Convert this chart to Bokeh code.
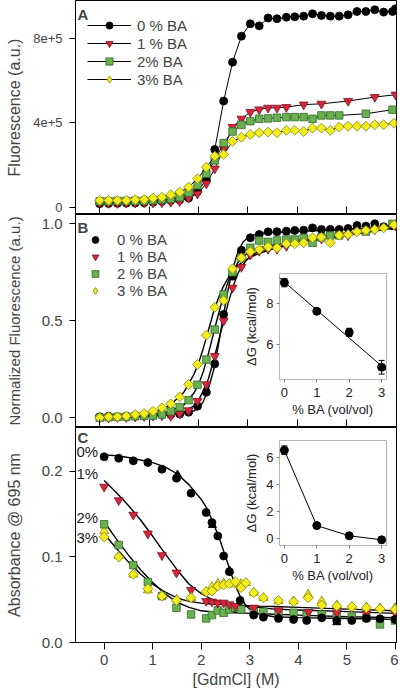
from bokeh.plotting import figure
from bokeh.models import (Range1d, FixedTicker, Legend, LegendItem, Label, ColumnDataSource,
                          Whisker, TeeHead, PrintfTickFormatter)
from bokeh.layouts import column
from bokeh.embed import file_html
from bokeh.resources import INLINE
from bokeh.core.properties import value

FONT = "Liberation Sans"

# ---------------- Panel A : raw fluorescence ----------------
A_x0 = [0.00, 0.18, 0.36, 0.54, 0.72, 0.90, 1.08, 1.26, 1.44, 1.62, 1.80, 1.98, 2.16, 2.33, 2.51, 2.69, 2.87,
        3.05, 3.23, 3.41, 3.59, 3.78, 3.95, 4.13, 4.31, 4.49, 4.67, 4.85, 5.03, 5.21, 5.39, 5.57, 5.75, 5.93, 5.99]
A_y0 = [16000, 17000, 18000, 19000, 20000, 21000, 23000, 28000, 31000, 34000, 43000, 74000, 131000, 273000,
        502000, 686000, 809000, 868000, 858000, 895000, 892000, 899000, 901000, 904000, 915000, 907000, 904000,
        904000, 910000, 926000, 926000, 934000, 923000, 926000, 939000]
A_x1 = [0.00, 0.18, 0.36, 0.54, 0.72, 0.90, 1.08, 1.26, 1.44, 1.62, 1.80, 1.98, 2.16, 2.33, 2.51, 2.69, 2.87,
        3.05, 3.23, 3.41, 3.59, 3.78, 4.13, 4.49, 5.03, 5.57, 5.99]
A_y1 = [18000, 19000, 19000, 20000, 20000, 21000, 21000, 22000, 24000, 27000, 43000, 63000, 111000, 182000,
        276000, 379000, 418000, 450000, 462000, 470000, 470000, 473000, 485000, 489000, 502000, 521000, 532000]
A_x2 = [0.00, 0.18, 0.36, 0.54, 0.72, 0.90, 1.08, 1.26, 1.44, 1.62, 1.80, 1.98, 2.16, 2.33, 2.51, 2.69, 2.87,
        3.05, 3.23, 3.41, 3.59, 3.78, 3.95, 4.13, 4.31, 4.49, 4.67, 4.85, 5.39, 5.93]
A_y2 = [28000, 28000, 29000, 29000, 30000, 30000, 32000, 36000, 39000, 47000, 68000, 103000, 158000, 221000,
        303000, 358000, 390000, 407000, 418000, 420000, 423000, 426000, 426000, 426000, 418000, 434000, 434000,
        434000, 442000, 461000]
A_x3 = [0.00, 0.18, 0.36, 0.54, 0.72, 0.90, 1.08, 1.26, 1.44, 1.62, 1.80, 1.98, 2.16, 2.33, 2.51, 2.69, 2.87,
        3.05, 3.23, 3.41, 3.59, 3.78, 3.95, 4.13, 4.31, 4.49, 4.67, 4.85, 5.03, 5.21, 5.39, 5.57, 5.75, 5.96]
A_y3 = [32000, 32000, 32000, 32000, 35000, 36000, 43000, 47000, 59000, 71000, 95000, 134000, 189000, 241000,
        249000, 311000, 331000, 344000, 352000, 355000, 352000, 363000, 363000, 358000, 374000, 374000, 363000,
        379000, 383000, 383000, 383000, 390000, 390000, 397000]
A_labels = ["0 % BA", "1 % BA", "2% BA", "3% BA"]
A_yticks = [0, 400000, 800000]
A_ytick_labels = ["0", "4e+5", "8e+5"]

# ---------------- Panel B : normalized fluorescence ----------------
B_x0, B_x1, B_x2, B_x3 = A_x0, A_x1, A_x2, A_x3
B_y0 = [0.005, 0.008, 0.005, 0.008, 0.012, 0.014, 0.014, 0.017, 0.017, 0.020, 0.029, 0.060, 0.132, 0.278, 0.533,
        0.730, 0.864, 0.928, 0.945, 0.959, 0.959, 0.962, 0.966, 0.967, 0.979, 0.971, 0.971, 0.971, 0.976, 0.991,
        0.988, 1.000, 0.985, 0.990, 0.992]
B_y1 = [0.000, 0.000, 0.002, 0.003, 0.005, 0.008, 0.010, 0.012, 0.009, 0.020, 0.038, 0.086, 0.172, 0.318, 0.500,
        0.670, 0.777, 0.840, 0.860, 0.870, 0.870, 0.885, 0.905, 0.923, 0.940, 0.970, 0.990]
B_y2 = [0.000, 0.003, 0.005, 0.005, 0.008, 0.010, 0.012, 0.017, 0.034, 0.055, 0.091, 0.170, 0.300, 0.455, 0.636,
        0.750, 0.825, 0.876, 0.914, 0.907, 0.914, 0.919, 0.919, 0.928, 0.902, 0.930, 0.940, 0.940, 0.960, 1.000]
B_y3 = [0.000, 0.005, 0.005, 0.009, 0.017, 0.022, 0.034, 0.052, 0.072, 0.108, 0.172, 0.275, 0.426, 0.570, 0.605,
        0.768, 0.825, 0.856, 0.868, 0.881, 0.876, 0.897, 0.897, 0.902, 0.928, 0.931, 0.902, 0.941, 0.945, 0.959,
        0.966, 0.971, 0.979, 0.995]
B_labels = ["0 % BA", "1 % BA", "2 % BA", "3 % BA"]
BF_x = [0.0, 0.5, 1.0, 1.4, 1.7, 1.9, 2.0, 2.1, 2.2, 2.3, 2.4, 2.5, 2.6, 2.7, 2.8, 2.9, 3.0, 3.2, 3.5, 4.0, 5.0, 6.0]
BF_0 = [0.003, 0.006, 0.010, 0.015, 0.022, 0.035, 0.048, 0.085, 0.150, 0.240, 0.370, 0.520, 0.660, 0.775, 0.855,
        0.905, 0.930, 0.950, 0.955, 0.960, 0.972, 0.985]
BF_1 = [0.000, 0.003, 0.008, 0.015, 0.030, 0.060, 0.090, 0.140, 0.200, 0.290, 0.390, 0.490, 0.590, 0.675, 0.745,
        0.790, 0.820, 0.855, 0.875, 0.905, 0.940, 0.980]
BF_2 = [0.000, 0.004, 0.010, 0.030, 0.065, 0.125, 0.170, 0.240, 0.330, 0.430, 0.530, 0.625, 0.700, 0.760, 0.800,
        0.830, 0.850, 0.875, 0.890, 0.910, 0.950, 0.990]
BF_3 = [0.000, 0.006, 0.020, 0.060, 0.130, 0.220, 0.280, 0.360, 0.450, 0.540, 0.615, 0.675, 0.720, 0.755, 0.785,
        0.805, 0.820, 0.845, 0.870, 0.900, 0.945, 0.990]
B_yticks = [0.0, 0.5, 1.0]

# inset B: dG vs % BA
IB_x = [0, 1, 2, 3]
IB_y = [9.00, 7.62, 6.60, 4.92]
IB_err = [0.20, 0.10, 0.20, 0.33]
IB_fit_x = [-0.15, 3.15]
IB_fit_y = [9.23, 4.78]
IB_yticks = [6, 8]

# ---------------- Panel C : absorbance 695 nm ----------------
C_x0 = [0.00, 0.30, 0.60, 0.90, 1.19, 1.49, 1.79, 2.10, 2.22, 2.34, 2.46, 2.58, 2.80, 3.08, 3.28, 3.59, 3.90,
        4.17, 4.48, 4.79, 5.10, 5.40, 5.68, 5.99]
C_y0 = [0.2168, 0.2152, 0.2121, 0.2101, 0.2023, 0.1918, 0.1743, 0.1517, 0.1400, 0.1244, 0.1010, 0.0827, 0.0491,
        0.0320, 0.0296, 0.0281, 0.0269, 0.0257, 0.0288, 0.0257, 0.0257, 0.0281, 0.0277, 0.0269]
C_x0t = [1.51, 2.23, 2.58, 4.79]
C_y0t = [0.1960, 0.1370, 0.0840, 0.0235]
C_x1 = [0.00, 0.30, 0.60, 0.90, 1.19, 1.49, 1.79, 2.10, 2.22, 2.34, 2.46, 2.58, 2.70, 3.08, 3.59, 4.21, 4.79,
        5.40, 5.99]
C_y1 = [0.1817, 0.1660, 0.1490, 0.1270, 0.1018, 0.0815, 0.0612, 0.0483, 0.0476, 0.0464, 0.0464, 0.0444, 0.0425,
        0.0405, 0.0374, 0.0355, 0.0347, 0.0335, 0.0347]
C_x2 = [0.00, 0.30, 0.60, 0.90, 1.19, 1.49, 1.79, 2.10, 2.22, 2.34, 2.46, 2.58, 2.70, 2.82, 3.08, 3.28, 3.59,
        3.90, 4.17, 4.48, 4.79, 5.10, 5.40, 5.68, 5.99]
C_y2 = [0.1380, 0.1138, 0.0904, 0.0706, 0.0542, 0.0405, 0.0327, 0.0281, 0.0320, 0.0374, 0.0347, 0.0386, 0.0405,
        0.0386, 0.0366, 0.0359, 0.0347, 0.0347, 0.0327, 0.0327, 0.0320, 0.0296, 0.0288, 0.0211, 0.0257]
C_x3 = [0.00, 0.30, 0.60, 0.90, 1.19, 1.49, 1.79, 2.10, 2.22, 2.34, 2.46, 2.58, 2.70, 2.82, 2.92, 3.08, 3.28,
        3.59, 3.90, 4.20, 4.48, 4.79, 5.10, 5.40, 5.68, 5.99]
C_y3 = [0.1232, 0.0998, 0.0795, 0.0628, 0.0542, 0.0491, 0.0522, 0.0593, 0.0600, 0.0659, 0.0671, 0.0686, 0.0710,
        0.0640, 0.0698, 0.0581, 0.0522, 0.0491, 0.0476, 0.0522, 0.0437, 0.0425, 0.0417, 0.0405, 0.0394, 0.0386]
C_y3t = [0.1300, 0.1010, 0.0795, 0.0610, 0.0550, 0.0503, 0.0522, 0.0593, 0.0650, 0.0686, 0.0694, 0.0686, 0.0678,
         0.0686, 0.0694, 0.0581, 0.0522, 0.0483, 0.0483, 0.0561, 0.0483, 0.0437, 0.0417, 0.0413, 0.0401, 0.0405]
CF_x = [0.0, 0.25, 0.5, 0.75, 1.0, 1.25, 1.5, 1.75, 2.0, 2.1, 2.2, 2.3, 2.4, 2.5, 2.6, 2.7, 2.8, 2.9, 3.0, 3.2,
        3.5, 4.0, 5.0, 6.0]
CF_0 = [0.219, 0.218, 0.216, 0.213, 0.210, 0.205, 0.197, 0.184, 0.167, 0.158, 0.146, 0.132, 0.117, 0.100, 0.083,
        0.067, 0.054, 0.045, 0.0386, 0.033, 0.030, 0.029, 0.028, 0.027]
CF_1 = [0.189, 0.175, 0.160, 0.143, 0.124, 0.104, 0.085, 0.068, 0.057, 0.054, 0.051, 0.049, 0.047, 0.046, 0.045,
        0.044, 0.043, 0.042, 0.042, 0.041, 0.039, 0.038, 0.036, 0.034]
CF_2 = [0.141, 0.121, 0.102, 0.085, 0.070, 0.057, 0.047, 0.041, 0.037, 0.0365, 0.036, 0.0357, 0.0355, 0.0352,
        0.035, 0.0348, 0.0345, 0.0343, 0.034, 0.0337, 0.033, 0.032, 0.030, 0.029]
CF_3 = [0.127, 0.110, 0.094, 0.080, 0.068, 0.059, 0.052, 0.048, 0.046, 0.0455, 0.045, 0.0447, 0.0445, 0.0442,
        0.044, 0.0437, 0.0435, 0.0432, 0.043, 0.0425, 0.042, 0.041, 0.039, 0.037]
C_curve_labels = ["0%", "1%", "2%", "3%"]
C_curve_label_x = [-0.57, -0.57, -0.57, -0.57]
C_curve_label_y = [0.2234, 0.1977, 0.1455, 0.1221]
C_yticks = [0.0, 0.1, 0.2]
X_ticks = [0, 1, 2, 3, 4, 5, 6]

# inset C: dG vs % BA
IC_x = [0, 1, 2, 3]
IC_y = [6.50, 0.93, 0.18, -0.12]
IC_err = [0.32, 0.08, 0.08, 0.08]
IC_yticks = [0, 2, 4, 6]

# ---------------- styling ----------------
BLACK = "#000000"
RED, RED_L = "#d6263c", "#7d1322"
GREEN, GREEN_L = "#6bb04e", "#2f6a2a"
YELLOW, YELLOW_L = "#f2ee1e", "#86840c"
FILLS = [BLACK, RED, GREEN, YELLOW]
EDGES = [BLACK, RED_L, GREEN_L, YELLOW_L]
MARKERS = ["circle", "inverted_triangle", "square", "square"]
LEG_MARKERS = ["circle", "inverted_triangle", "square", "diamond"]
SIZES = [8, 9, 7.5, 7]
ANGLES = [0, 0, 0, 0.785398]

LEFT = 75
RIGHT = 2
W = 398


def make_main(height, xr, yr, bottom):
    p = figure(width=W, height=height, x_range=Range1d(*xr), y_range=Range1d(*yr),
               output_backend="svg", toolbar_location=None,
               min_border_left=LEFT, min_border_right=RIGHT, min_border_top=0, min_border_bottom=bottom)
    p.xgrid.visible = False
    p.ygrid.visible = False
    p.outline_line_color = "black"
    p.outline_line_width = 1
    p.outline_line_alpha = 1
    p.background_fill_color = "white"
    p.border_fill_color = "white"
    ya = p.yaxis[0]
    ya.major_tick_out = 6
    ya.major_tick_in = 0
    ya.minor_tick_line_color = None
    ya.major_label_standoff = 7
    ya.axis_label_standoff = 16
    ya.major_label_text_font = FONT
    ya.major_label_text_font_size = "15px"
    ya.axis_label_text_font = FONT
    ya.axis_label_text_font_size = "16px"
    ya.axis_label_text_font_style = "normal"
    ya.axis_line_color = "black"
    xa = p.xaxis[0]
    xa.ticker = FixedTicker(ticks=X_ticks)
    xa.minor_tick_line_color = None
    xa.axis_line_color = "black"
    return p


def hide_bottom_labels(p):
    xa = p.xaxis[0]
    xa.major_tick_in = 8
    xa.major_tick_out = 0
    xa.major_label_text_font_size = "0px"
    xa.major_label_standoff = 0
    xa.major_label_text_alpha = 0


def add_series(p, i, xs, ys, size=None):
    return p.scatter(xs, ys, marker=MARKERS[i], size=size or SIZES[i], angle=ANGLES[i],
                     fill_color=FILLS[i], line_color=EDGES[i], line_width=0.8)


def legend_proxy(p, i, xs, ys):
    # hidden copy of the series, used only to draw the legend symbol
    return p.scatter(xs, ys, marker=LEG_MARKERS[i], size=SIZES[i], fill_color=FILLS[i], line_color=EDGES[i],
                     line_width=0.8, visible=False)


# ---------- A ----------
pA = make_main(214, (-0.49, 6.01), (-35000, 978000), 0)
hide_bottom_labels(pA)
pA.yaxis[0].ticker = FixedTicker(ticks=A_yticks)
pA.yaxis[0].major_label_overrides = {t: s for t, s in zip(A_yticks, A_ytick_labels)}
pA.yaxis[0].major_label_text_font_size = "13px"
pA.yaxis[0].axis_label_standoff = 7
pA.yaxis[0].axis_label = "Fluorescence (a.u.)"
itemsA = []
for i, (xs, ys) in enumerate([(A_x0, A_y0), (A_x1, A_y1), (A_x2, A_y2), (A_x3, A_y3)]):
    ln = pA.line(xs, ys, line_color="black", line_width=1)
    add_series(pA, i, xs, ys)
    itemsA.append(LegendItem(label=A_labels[i], renderers=[ln, legend_proxy(pA, i, xs, ys)]))
legA = Legend(items=itemsA, location=(12, 126), margin=0, padding=0, spacing=0,
              glyph_width=44, glyph_height=18, label_height=18, label_standoff=6,
              label_text_font=FONT, label_text_font_size="15px",
              border_line_alpha=0, background_fill_alpha=0)
pA.add_layout(legA)
pA.add_layout(Label(x=-0.45, y=978000, y_offset=-5, text="A", text_font=FONT, text_font_size="15px",
                    text_font_style="bold", text_baseline="top"))

# ---------- B ----------
pB = make_main(213, (-0.49, 6.01), (-0.05, 1.048), 0)
hide_bottom_labels(pB)
pB.yaxis[0].ticker = FixedTicker(ticks=B_yticks)
pB.yaxis[0].formatter = PrintfTickFormatter(format="%.1f")
pB.yaxis[0].axis_label = "Normalized Fluorescence (a.u.)"
pB.yaxis[0].axis_label_text_font_size = "15px"
for fy in [BF_0, BF_1, BF_2, BF_3]:
    pB.line(BF_x, fy, line_color="black", line_width=1.4)
itemsB = []
for i, (xs, ys) in enumerate([(B_x0, B_y0), (B_x1, B_y1), (B_x2, B_y2), (B_x3, B_y3)]):
    add_series(pB, i, xs, ys)
    itemsB.append(LegendItem(label=B_labels[i], renderers=[legend_proxy(pB, i, xs, ys)]))
legB = Legend(items=itemsB, location=(10, 128), margin=0, padding=0, spacing=0,
              glyph_width=20, glyph_height=17, label_height=17, label_standoff=12,
              label_text_font=FONT, label_text_font_size="15px",
              border_line_alpha=0, background_fill_alpha=0)
pB.add_layout(legB)
pB.add_layout(Label(x=-0.45, y=1.048, y_offset=-4, text="B", text_font=FONT, text_font_size="15px",
                    text_font_style="bold", text_baseline="top"))

# ---------- C ----------
pC = make_main(267, (-0.59, 6.02), (0.0, 0.251), 52)
xa = pC.xaxis[0]
xa.major_tick_out = 7
xa.major_tick_in = 0
xa.major_label_standoff = 5
xa.axis_label_standoff = 3
xa.major_label_text_font = FONT
xa.major_label_text_font_size = "15px"
xa.axis_label = "[GdmCl] (M)"
xa.axis_label_text_font = FONT
xa.axis_label_text_font_size = "16px"
xa.axis_label_text_font_style = "normal"
pC.yaxis[0].ticker = FixedTicker(ticks=C_yticks)
pC.yaxis[0].formatter = PrintfTickFormatter(format="%.1f")
pC.yaxis[0].axis_label = "Absorbance @ 695 nm"
for fy in [CF_0, CF_1, CF_2, CF_3]:
    pC.line(CF_x, fy, line_color="black", line_width=1.4)
pC.scatter(C_x3, C_y3t, marker="triangle", size=9, fill_color=YELLOW, line_color=YELLOW_L, line_width=0.8)
add_series(pC, 2, C_x2, C_y2)
add_series(pC, 1, C_x1, C_y1)
add_series(pC, 3, C_x3, C_y3)
add_series(pC, 0, C_x0, C_y0)
pC.scatter(C_x0t, C_y0t, marker="triangle", size=8, fill_color="black", line_color="black")
pC.text(x=C_curve_label_x, y=C_curve_label_y, text=C_curve_labels, text_font=value(FONT),
        text_font_size="15px", text_baseline="middle", text_align="left", text_color="#222222")
pC.add_layout(Label(x=-0.55, y=0.251, y_offset=-1, text="C", text_font=FONT, text_font_size="15px",
                    text_font_style="bold", text_baseline="top"))

# ---------- insets (same left/right borders as the main panels so column alignment is neutral) ----------
IN_FRAME_W = 107


def make_inset(frame_h, yr, yticks, top):
    q = figure(width=LEFT + IN_FRAME_W + RIGHT, height=4 + frame_h + 44,
               x_range=Range1d(-0.15, 3.15), y_range=Range1d(*yr),
               output_backend="svg", toolbar_location=None,
               min_border_left=LEFT, min_border_right=RIGHT, min_border_top=4, min_border_bottom=44)
    q.xgrid.visible = False
    q.ygrid.visible = False
    q.outline_line_color = "#b4b4b4"
    q.outline_line_width = 1
    q.background_fill_color = "white"
    q.border_fill_alpha = 0
    for ax in (q.xaxis[0], q.yaxis[0]):
        ax.axis_line_color = None
        ax.minor_tick_line_color = None
        ax.major_tick_out = 3
        ax.major_tick_in = 0
        ax.major_tick_line_color = "#888888"
        ax.major_label_text_font = FONT
        ax.major_label_text_font_size = "13px"
        ax.major_label_text_color = "#222222"
        ax.axis_label_text_font = FONT
        ax.axis_label_text_font_size = "13px"
        ax.axis_label_text_font_style = "normal"
        ax.axis_label_text_color = "#222222"
    q.xaxis[0].ticker = FixedTicker(ticks=[0, 1, 2, 3])
    q.xaxis[0].major_label_standoff = 5
    q.xaxis[0].axis_label_standoff = 2
    q.xaxis[0].axis_label = "% BA (vol/vol)"
    q.yaxis[0].ticker = FixedTicker(ticks=yticks)
    q.yaxis[0].major_label_standoff = 3
    q.yaxis[0].axis_label_standoff = 4
    q.yaxis[0].axis_label = "ΔG (kcal/mol)"
    q.styles = {"position": "absolute", "left": f"{279 - LEFT}px", "top": f"{top}px", "z-index": "10"}
    return q


insB = make_inset(106, (4.33, 9.44), IB_yticks, 269)
insB.line(IB_fit_x, IB_fit_y, line_color="black", line_width=1)
srcB = ColumnDataSource(dict(x=IB_x, lo=[v - e for v, e in zip(IB_y, IB_err)], hi=[v + e for v, e in zip(IB_y, IB_err)]))
insB.add_layout(Whisker(source=srcB, base="x", lower="lo", upper="hi", line_color="black", line_width=1,
                        lower_head=TeeHead(size=6, line_color="black"), upper_head=TeeHead(size=6, line_color="black")))
insB.scatter(IB_x, IB_y, marker="circle", size=8, fill_color="black", line_color="black")

insC = make_inset(105, (-0.54, 7.22), IC_yticks, 436)
insC.line(IC_x, IC_y, line_color="black", line_width=1)
srcC = ColumnDataSource(dict(x=IC_x, lo=[v - e for v, e in zip(IC_y, IC_err)], hi=[v + e for v, e in zip(IC_y, IC_err)]))
insC.add_layout(Whisker(source=srcC, base="x", lower="lo", upper="hi", line_color="black", line_width=1,
                        lower_head=TeeHead(size=6, line_color="black"), upper_head=TeeHead(size=6, line_color="black")))
insC.scatter(IC_x, IC_y, marker="circle", size=8, fill_color="black", line_color="black")

p = column(pA, pB, pC, insB, insC, spacing=0, styles={"position": "relative"})

open("out.html", "w").write(file_html(p, INLINE))
